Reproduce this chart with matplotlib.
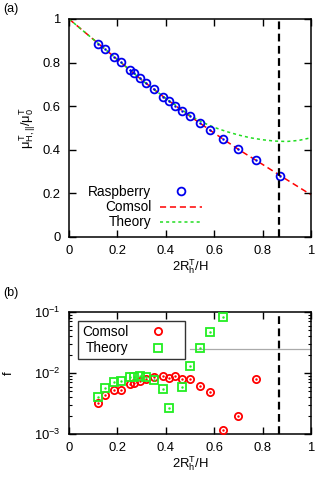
import numpy as np
import matplotlib
matplotlib.use("Agg")
import matplotlib.pyplot as plt

plt.rcParams['font.family'] = ['Liberation Sans', 'DejaVu Sans']
plt.rcParams['font.size'] = 9.4
plt.rcParams['mathtext.fontset'] = 'custom'
plt.rcParams['mathtext.rm'] = 'Liberation Sans'
plt.rcParams['mathtext.it'] = 'Liberation Sans'

# simulation points (x = 2R_h^T/H)
x_rasp = [0.121, 0.147, 0.186, 0.213, 0.252, 0.270, 0.293, 0.318, 0.350, 0.388,
          0.412, 0.437, 0.467, 0.501, 0.540, 0.584, 0.636, 0.698, 0.775, 0.872]
mu_rasp = [0.886, 0.862, 0.826, 0.801, 0.767, 0.750, 0.728, 0.705, 0.678, 0.644,
           0.626, 0.603, 0.580, 0.553, 0.522, 0.489, 0.450, 0.403, 0.351, 0.282]

# comsol curve
x_comsol = [0.0, 0.1, 0.2, 0.3, 0.4, 0.5, 0.6, 0.7, 0.8, 0.9, 1.0]
mu_comsol = [1.0, 0.907, 0.814, 0.721, 0.635, 0.554, 0.477, 0.402, 0.333, 0.263, 0.194]

# theory curve
x_theory = [0.0, 0.1, 0.2, 0.3, 0.4, 0.5, 0.55, 0.6, 0.65, 0.7, 0.75, 0.8,
            0.85, 0.9, 0.95, 1.0]
mu_theory = [1.0, 0.907, 0.814, 0.721, 0.636, 0.558, 0.527, 0.503, 0.484, 0.468,
             0.455, 0.446, 0.440, 0.438, 0.443, 0.455]

# relative deviation f
x_f_comsol = x_rasp[:19]
f_comsol = [3.27e-3, 4.31e-3, 5.26e-3, 5.26e-3, 6.61e-3, 6.93e-3, 7.4e-3, 8.07e-3,
            8.49e-3, 8.93e-3, 8.18e-3, 8.81e-3, 7.98e-3, 8.07e-3, 6.12e-3, 4.82e-3,
            1.17e-3, 2.0e-3, 7.98e-3]
x_f_theory = [0.121, 0.147, 0.186, 0.213, 0.252, 0.270, 0.293, 0.318, 0.350, 0.388,
              0.412, 0.467, 0.501, 0.540, 0.584, 0.636]
f_theory = [4.09e-3, 5.68e-3, 7.03e-3, 7.29e-3, 8.49e-3, 8.71e-3, 8.93e-3, 8.59e-3,
            7.67e-3, 5.40e-3, 2.64e-3, 5.82e-3, 1.30e-2, 2.60e-2, 4.65e-2, 8.28e-2]

x_cut = 0.869
f_gray = 0.025

fig = plt.figure(figsize=(3.35, 4.93), dpi=100)
ax1 = fig.add_axes([0.206, 0.5193, 0.722, 0.4422])
ax2 = fig.add_axes([0.206, 0.1197, 0.722, 0.2475])

xlab = r'2R$_\mathregular{h}^\mathregular{T}$/H'

# ---- (a)
ax1.plot(x_comsol, mu_comsol, color='red', ls=(0, (4, 2.5)), lw=1.1, label='Comsol', zorder=2)
ax1.plot(x_theory, mu_theory, color='#22dd22', ls=(0, (2, 2)), lw=1.1, label='Theory', zorder=2)
ax1.plot(x_rasp, mu_rasp, ls='none', marker='o', ms=5.6, mfc='none', mec='#0000ee',
         mew=1.3, label='Raspberry', zorder=3)
ax1.plot(x_rasp, mu_rasp, ls='none', marker='.', ms=1.5, color='#0000ee', zorder=3)
ax1.axvline(x_cut, color='black', ls=(0, (3.5, 2)), lw=1.6, zorder=4)
ax1.set_xlim(0, 1)
ax1.set_ylim(0, 1)
ax1.set_xticks([0, 0.2, 0.4, 0.6, 0.8, 1])
ax1.set_xticklabels(['0', '0.2', '0.4', '0.6', '0.8', '1'])
ax1.set_yticks([0, 0.2, 0.4, 0.6, 0.8, 1])
ax1.set_yticklabels(['0', '0.2', '0.4', '0.6', '0.8', '1'])
ax1.set_xlabel(xlab, labelpad=0)
ax1.set_ylabel(r'$\mu^\mathregular{T}_{\mathregular{H},||}/\mu^\mathregular{T}_\mathregular{0}$',
               labelpad=3)
h, l = ax1.get_legend_handles_labels()
order = [2, 0, 1]
ax1.legend([h[i] for i in order], [l[i] for i in order], loc='lower left',
           bbox_to_anchor=(0.08, 0.035), frameon=False, markerfirst=False,
           fontsize=9.8, handlelength=3.1, handletextpad=0.6, labelspacing=0.08,
           borderpad=0, borderaxespad=0)

# ---- (b)
ax2.axhline(f_gray, xmin=0.5, xmax=1.0, color='#aaaaaa', lw=0.9, zorder=1)
ax2.plot(x_f_comsol, f_comsol, ls='none', marker='o', ms=5.2, mfc='none', mec='red',
         mew=1.3, label='Comsol', zorder=3)
ax2.plot(x_f_comsol, f_comsol, ls='none', marker='.', ms=1.5, color='red', zorder=3)
ax2.plot(x_f_theory, f_theory, ls='none', marker='s', ms=5.4, mfc='none', mec='#22ee22',
         mew=1.3, label='Theory', zorder=3)
ax2.plot(x_f_theory, f_theory, ls='none', marker='.', ms=1.5, color='#22ee22', zorder=3)
ax2.axvline(x_cut, color='black', ls=(0, (3.5, 2)), lw=1.6, zorder=4)
ax2.set_yscale('log')
ax2.set_xlim(0, 1)
ax2.set_ylim(1e-3, 1e-1)
ax2.set_xticks([0, 0.2, 0.4, 0.6, 0.8, 1])
ax2.set_xticklabels(['0', '0.2', '0.4', '0.6', '0.8', '1'])
ax2.set_yticks([1e-3, 1e-2, 1e-1])
ax2.set_yticklabels([r'10$^{-3}$', r'10$^{-2}$', r'10$^{-1}$'])
ax2.set_xlabel(xlab, labelpad=0)
ax2.set_ylabel('f', labelpad=14)
leg = ax2.legend(loc='upper left', bbox_to_anchor=(0.037, 0.93), frameon=True,
                 fancybox=False, markerfirst=False, fontsize=9.8, handlelength=3.4,
                 handletextpad=0.5, labelspacing=0.2, borderpad=0.3, borderaxespad=0)
leg.get_frame().set_edgecolor('black')
leg.get_frame().set_linewidth(1.0)

for ax in (ax1, ax2):
    ax.tick_params(which='major', direction='in', length=5, width=1, top=True, right=True, pad=6)
    ax.tick_params(which='minor', direction='in', length=2.5, width=0.8, top=True, right=True)
    for s in ax.spines.values():
        s.set_linewidth(1.1)

fig.text(0.01, 0.982, '(a)', fontsize=9, va='center')
fig.text(0.01, 0.406, '(b)', fontsize=9, va='center')

fig.savefig('out.png', dpi=100)
